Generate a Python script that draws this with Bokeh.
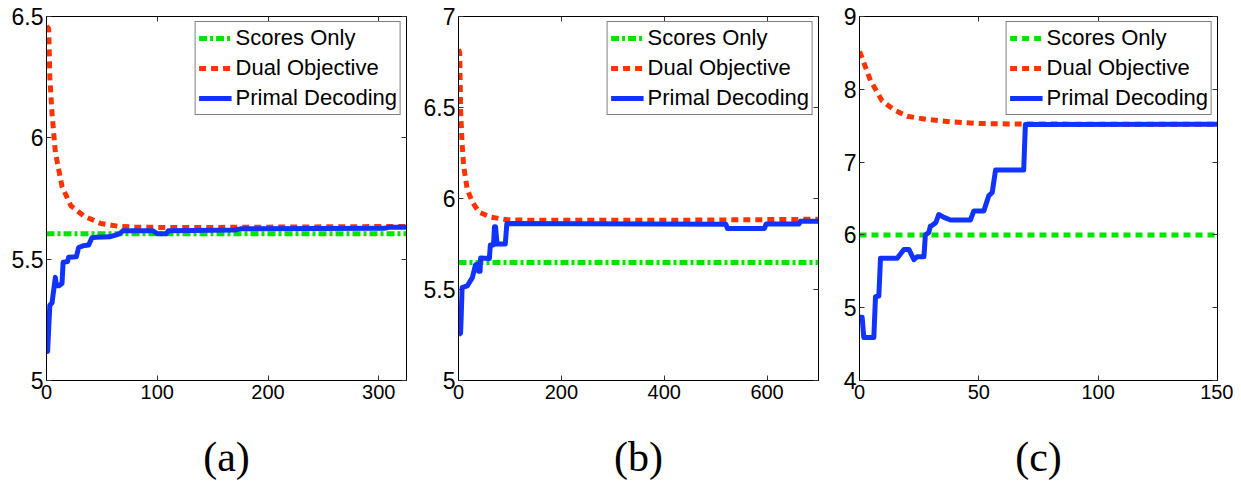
from bokeh.plotting import figure
from bokeh.layouts import row
from bokeh.models import Range1d, FixedTicker, LinearAxis, CustomJSTickFormatter
from bokeh.embed import file_html
from bokeh.resources import INLINE

# ---------------- data ----------------
legend_labels = ["Scores Only", "Dual Objective", "Primal Decoding"]
panel_labels = ["(a)", "(b)", "(c)"]

# panel (a)
x_range_a = [0, 325]
y_range_a = [5, 6.5]
x_ticks_a = [0, 100, 200, 300]
y_ticks_a = [5, 5.5, 6, 6.5]
scores_a = 5.605
dual_a_x = [0, 2, 3, 5, 8, 14, 22, 34, 49, 64, 80, 120, 200, 325]
dual_a_y = [6.46, 6.45, 6.25, 6.10, 5.94, 5.80, 5.72, 5.677, 5.647, 5.636, 5.632, 5.630, 5.632, 5.635]
primal_a_x = [0, 1, 3, 5, 8, 9, 11, 14, 15, 19, 20, 27, 29, 33, 38, 41, 45, 57, 63, 66, 69,
              96, 100, 108, 110, 170, 175, 305, 310, 325]
primal_a_y = [5.12, 5.12, 5.31, 5.32, 5.425, 5.39, 5.39, 5.40, 5.487, 5.49, 5.508, 5.51, 5.548,
              5.555, 5.558, 5.588, 5.59, 5.592, 5.60, 5.605, 5.617, 5.617, 5.605, 5.605, 5.617,
              5.62, 5.625, 5.627, 5.632, 5.632]

# panel (b)
x_range_b = [0, 700]
y_range_b = [5, 7]
x_ticks_b = [0, 200, 400, 600]
y_ticks_b = [5, 5.5, 6, 6.5, 7]
scores_b = 5.648
dual_b_x = [0, 2.5, 4, 7, 10, 17, 27, 40, 62, 94, 150, 400, 700]
dual_b_y = [6.82, 6.80, 6.49, 6.30, 6.18, 6.05, 5.98, 5.925, 5.898, 5.883, 5.88, 5.88, 5.886]
primal_b_x = [0, 4, 5, 7, 17, 27, 33, 37, 39, 42, 43, 60, 62, 68, 70, 72, 75, 91, 94,
              520, 523, 595, 598, 662, 665, 700]
primal_b_y = [5.25, 5.26, 5.33, 5.51, 5.52, 5.565, 5.636, 5.64, 5.60, 5.60, 5.673, 5.67, 5.745,
              5.745, 5.845, 5.845, 5.75, 5.75, 5.862, 5.858, 5.835, 5.835, 5.86, 5.86, 5.875, 5.875]

# panel (c)
x_range_c = [0, 150]
y_range_c = [4, 9]
x_ticks_c = [0, 50, 100, 150]
y_ticks_c = [4, 5, 6, 7, 8, 9]
scores_c = 6.0
dual_c_x = [0, 0.4, 4.6, 9.5, 14.4, 20, 28.4, 39.6, 50.7, 62, 100, 150]
dual_c_y = [8.52, 8.49, 8.12, 7.84, 7.72, 7.63, 7.585, 7.55, 7.53, 7.525, 7.52, 7.52]
primal_c_x = [0, 1.1, 1.8, 6.0, 6.7, 8.1, 8.8, 15.8, 18.6, 20.7, 22.8, 24.2, 27.0, 27.6, 29.0,
              29.7, 30.4, 32.0, 33.2, 35.4, 38.1, 46.5, 47.9, 52.1, 54.2, 55.6, 57.0, 68.8, 69.5, 150]
primal_c_y = [4.87, 4.87, 4.59, 4.59, 5.15, 5.16, 5.68, 5.68, 5.80, 5.80, 5.66, 5.70, 5.70, 6.00,
              6.03, 6.12, 6.13, 6.17, 6.28, 6.24, 6.205, 6.205, 6.33, 6.33, 6.54, 6.58, 6.89, 6.89,
              7.515, 7.52]

# ---------------- style ----------------
GREEN = "#00e400"
RED = "#ff3300"
BLUE = "#1133ff"
FIG_H = 487
BORDER_TOP = 16
BORDER_BOTTOM = 107
fmt = CustomJSTickFormatter(code="return tick.toString()")
blank = CustomJSTickFormatter(code="return ''")


def make_panel(label, xr, yr, xt, yt, scores, dx, dy, px, py, width, left, right,
               scores_dash):
    p = figure(width=width, height=FIG_H, x_range=Range1d(*xr), y_range=Range1d(*yr),
               output_backend="svg", toolbar_location=None,
               min_border_left=left, min_border_right=right,
               min_border_top=BORDER_TOP, min_border_bottom=BORDER_BOTTOM)
    p.xgrid.visible = False
    p.ygrid.visible = False
    p.outline_line_color = "black"
    p.outline_line_width = 1
    p.background_fill_color = "white"
    p.border_fill_color = "white"

    p.line(xr, [scores, scores], line_color=GREEN, line_width=5, line_dash=scores_dash,
           legend_label=legend_labels[0])
    p.line(dx, dy, line_color=RED, line_width=5, line_dash="7 5",
           legend_label=legend_labels[1])
    p.line(px, py, line_color=BLUE, line_width=5, line_join="round",
           legend_label=legend_labels[2])

    xa = p.xaxis[0]
    xa.ticker = FixedTicker(ticks=xt)
    xa.formatter = fmt
    xa.major_tick_in = 5
    xa.major_tick_out = 0
    xa.minor_tick_line_color = None
    xa.axis_line_color = "black"
    xa.major_tick_line_color = "#333333"
    xa.major_label_text_font = "Liberation Sans"
    xa.major_label_text_font_size = "20px"
    xa.major_label_text_color = "black"
    xa.major_label_standoff = 4
    xa.axis_label = label
    xa.axis_label_text_font = "Liberation Serif"
    xa.axis_label_text_font_size = "42px"
    xa.axis_label_text_font_style = "normal"
    xa.axis_label_text_color = "black"
    xa.axis_label_standoff = 32

    ya = p.yaxis[0]
    ya.ticker = FixedTicker(ticks=yt)
    ya.formatter = fmt
    ya.major_tick_in = 5
    ya.major_tick_out = 0
    ya.minor_tick_line_color = None
    ya.axis_line_color = "black"
    ya.major_tick_line_color = "#333333"
    ya.major_label_text_font = "Liberation Sans"
    ya.major_label_text_font_size = "23px"
    ya.major_label_text_color = "black"
    ya.major_label_standoff = 3

    for side, ticks in (("right", yt), ("above", xt)):
        ax = LinearAxis(ticker=FixedTicker(ticks=ticks), formatter=blank,
                        major_tick_in=5, major_tick_out=0,
                        minor_tick_line_color=None, major_label_text_font_size="1px",
                        major_label_text_color=None,
                        major_label_standoff=0, axis_line_color="black",
                        major_tick_line_color="#333333")
        p.add_layout(ax, side)

    lg = p.legend[0]
    lg.location = "top_right"
    lg.margin = 5
    lg.padding = 3
    lg.spacing = 4
    lg.glyph_width = 33
    lg.glyph_height = 24
    lg.label_height = 24
    lg.label_standoff = 4
    lg.label_text_font = "Liberation Sans"
    lg.label_text_font_size = "22px"
    lg.label_text_color = "black"
    lg.border_line_color = "black"
    lg.border_line_width = 1
    lg.background_fill_alpha = 1.0
    return p


pa = make_panel(panel_labels[0], x_range_a, y_range_a, x_ticks_a, y_ticks_a, scores_a,
                dual_a_x, dual_a_y, primal_a_x, primal_a_y, 418, 46, 12, "8 3 3 3")
pb = make_panel(panel_labels[1], x_range_b, y_range_b, x_ticks_b, y_ticks_b, scores_b,
                dual_b_x, dual_b_y, primal_b_x, primal_b_y, 410, 40, 10, "8 3 3 3")
pc = make_panel(panel_labels[2], x_range_c, y_range_c, x_ticks_c, y_ticks_c, scores_c,
                dual_c_x, dual_c_y, primal_c_x, primal_c_y, 405, 31, 16, "7 5")

layout = row(pa, pb, pc, spacing=0)
open("out.html", "w").write(file_html(layout, INLINE))
